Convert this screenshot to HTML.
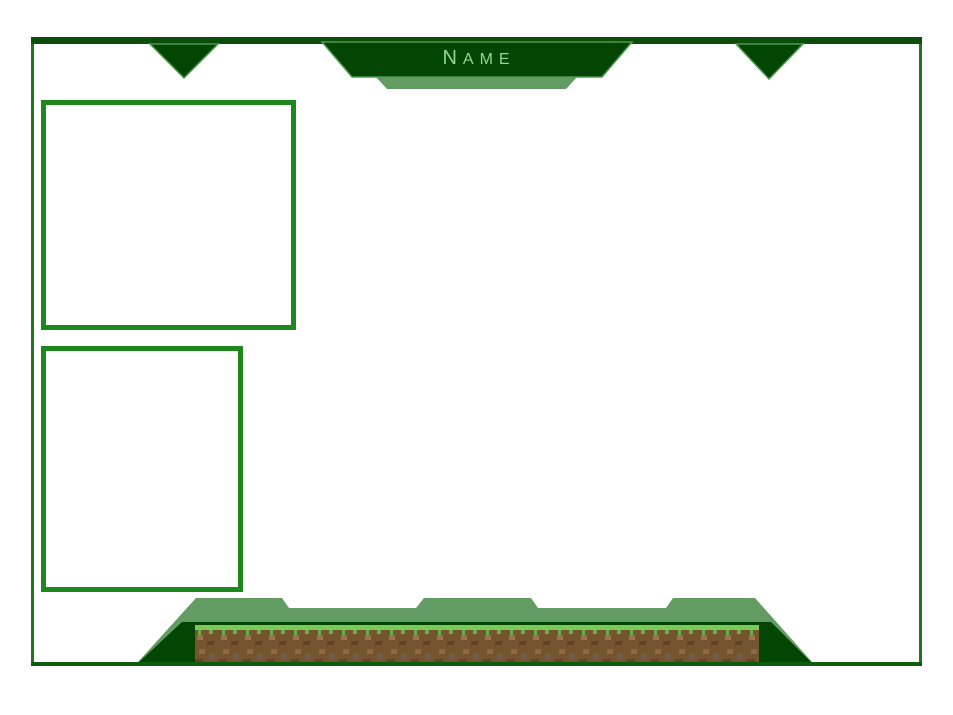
<!DOCTYPE html>
<html><head><meta charset="utf-8"><style>
html,body{margin:0;padding:0;background:#fff;width:953px;height:715px;overflow:hidden}
</style></head><body>
<svg width="953" height="715" viewBox="0 0 953 715" xmlns="http://www.w3.org/2000/svg">
<defs>
<pattern id="dirt" width="24" height="40" patternUnits="userSpaceOnUse" x="195" y="625">
<rect width="24" height="40" fill="#74552f"/>
<rect x="2" y="10" width="6" height="5" fill="#9a7448"/>
<rect x="12" y="16" width="7" height="4" fill="#5e4428"/>
<rect x="4" y="24" width="6" height="5" fill="#8d6a42"/>
<rect x="15" y="29" width="5" height="5" fill="#6b6b6b" opacity=".5"/>
<rect x="0" y="34" width="8" height="4" fill="#5e4428"/>
<rect x="0" y="0" width="24" height="5" fill="#7cc95a"/>
<rect x="3" y="5" width="3" height="5" fill="#6ab04a"/>
<rect x="14" y="5" width="4" height="4" fill="#6ab04a"/>
</pattern>
</defs>
<rect x="32.5" y="40" width="888" height="624" fill="none" stroke="#1a7a1a" stroke-width="3"/>
<rect x="31" y="37" width="891" height="7" fill="#0b4d0b"/>
<polygon points="150,44 218,44 184,78" fill="#034503" stroke="#4f9a4f" stroke-width="1.5"/>
<polygon points="736,44 803,44 769,79" fill="#034503" stroke="#4f9a4f" stroke-width="1.5"/>
<polygon points="375,76 578,76 566,89 387,89" fill="#629c62"/>
<polygon points="322,42 632,42 602,77 352,77" fill="#034503" stroke="#4f9a4f" stroke-width="1.5"/>
<text x="479" y="64" text-anchor="middle" font-family="Liberation Sans, sans-serif" font-size="20" fill="#8fd88f" letter-spacing="6">N<tspan font-size="16">AME</tspan></text>
<rect x="43.5" y="102.5" width="250" height="225" fill="none" stroke="#1e881e" stroke-width="5"/>
<rect x="43.5" y="348.5" width="197" height="241" fill="none" stroke="#1e881e" stroke-width="5"/>
<polygon points="138,662 196,598 282,598 289,608 416,608 424,598 531,598 538,608 666,608 673,598 755,598 812,662" fill="#629c62"/>
<polygon points="138,663 182,622 771,622 812,663" fill="#034503"/>
<rect x="195" y="625" width="564" height="40" fill="url(#dirt)"/>
<rect x="31" y="662" width="891" height="4" fill="#0b5d0b"/>
</svg>
</body></html>
